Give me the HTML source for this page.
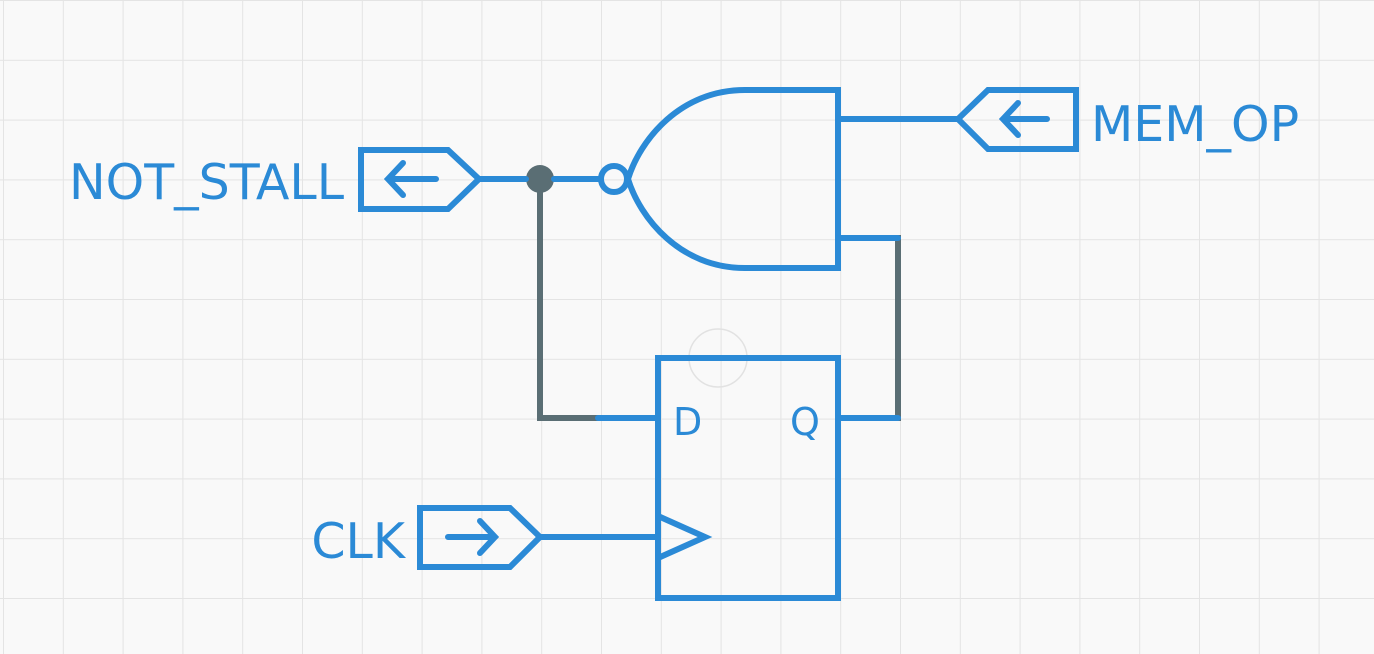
<!DOCTYPE html>
<html><head><meta charset="utf-8"><style>
html,body{margin:0;padding:0;background:#f9f9f9;}
svg{display:block;}
text{font-family:"DejaVu Sans","Liberation Sans",sans-serif;fill:#2b8ad6;}
</style></head><body>
<svg width="1374" height="654" viewBox="0 0 1374 654" xmlns="http://www.w3.org/2000/svg">
<defs>
<pattern id="g" x="3" y="0" width="59.8" height="59.8" patternUnits="userSpaceOnUse">
<path d="M0 0V59.8M0 0H59.8" stroke="#e4e4e4" stroke-width="2" fill="none"/>
</pattern>
</defs>
<rect width="1374" height="654" fill="#f9f9f9"/>
<rect width="1374" height="654" fill="url(#g)"/>
<circle cx="718" cy="358" r="29" fill="none" stroke="#e2e2e2" stroke-width="1.5"/>
<g fill="none" stroke="#5a6e74" stroke-width="6" stroke-linecap="square" stroke-linejoin="miter">
<path d="M540 179V418H598"/>
<path d="M898 238V418"/>
</g>
<circle cx="540" cy="179" r="14" fill="#5a6e74"/>
<g fill="none" stroke="#2b8ad6" stroke-width="6" stroke-linecap="round" stroke-linejoin="miter">
<path d="M361 150H448L479 179L448 209H361Z"/>
<path d="M388 179H436M403 163L388 179L403 195"/>
<path d="M479 179H526M554 179H600"/>
<circle cx="614" cy="179" r="13"/>
<path d="M745 90H838V268H745"/>
<path d="M745 90C680 90 640 140 628 179C640 218 680 268 745 268"/>
<path d="M838 119H958"/>
<path d="M838 238H898"/>
<path d="M958 119L988 90H1076V149H988Z"/>
<path d="M1003 119H1047M1018 103L1003 119L1018 135"/>
<path d="M658 358H838V598H658Z"/>
<path d="M598 418H658M838 418H898"/>
<path d="M658 516L705 537L658 558"/>
<path d="M540 537H658"/>
<path d="M420 508H510L540 537L510 567H420Z"/>
<path d="M448 537H495M480 521L495 537L480 553"/>
</g>
<text x="344" y="199" font-size="49" text-anchor="end">NOT_STALL</text>
<text x="1091" y="141" font-size="49">MEM_OP</text>
<text x="405" y="558" font-size="49" text-anchor="end">CLK</text>
<text x="673" y="435" font-size="38">D</text>
<text x="790" y="435" font-size="38">Q</text>
</svg>
</body></html>
